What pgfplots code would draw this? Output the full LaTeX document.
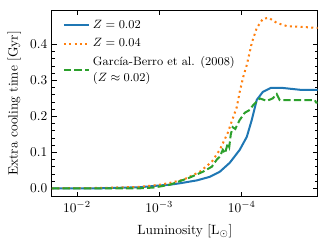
\documentclass[border=0pt]{standalone}
\usepackage{pgfplots}
\pgfplotsset{compat=1.18}
\definecolor{tabblue}{HTML}{1F77B4}
\definecolor{taborange}{HTML}{FF7F0E}
\definecolor{tabgreen}{HTML}{2CA02C}
\begin{document}
\begin{tikzpicture}
\useasboundingbox (-38.8pt,-35pt) rectangle (206.2pt,147pt);
\begin{axis}[
  at={(0,0)}, anchor=south west,
  scale only axis, width=198.5pt, height=139.5pt,
  xmode=log, x dir=reverse,
  xmin=1.2e-5, xmax=0.0201,
  ymin=-0.0236, ymax=0.4956,
  xtick={1e-2,1e-3,1e-4},
  xticklabels={$10^{-2}$,$10^{-3}$,$10^{-4}$},
  ytick={0,0.1,0.2,0.3,0.4},
  yticklabel style={/pgf/number format/.cd,fixed,fixed zerofill,precision=1},
  minor y tick num=4,
  tick align=inside, tick pos=both,
  major tick length=3.5pt, minor tick length=2pt,
  every tick/.style={black, line width=0.6pt},
  axis line style={line width=0.8pt},
  xlabel={Luminosity [L$_{\odot}$]},
  xlabel style={yshift=-2pt},
  ylabel={Extra cooling time [Gyr]},
  legend style={at={(axis description cs:0.025,0.975)}, anchor=north west, draw=none, fill=none, font=\small, row sep=2pt},
  legend cell align=left,
  legend image code/.code={\draw[#1] (0pt,0pt) -- (19pt,0pt);},
]
\addplot[tabblue, line width=1.5pt] coordinates {
(0.0201,0.0) (5.26e-3,0.0) (1.72e-3,0.003) (9.86e-4,0.008) (7.46e-4,0.010) (5.65e-4,0.014)
(3.51e-4,0.022) (2.44e-4,0.032) (1.85e-4,0.046) (1.40e-4,0.071) (1.06e-4,0.107)
(8.7e-5,0.143) (7.57e-5,0.19) (6.58e-5,0.246) (5.56e-5,0.268) (4.45e-5,0.279)
(3.18e-5,0.279) (1.98e-5,0.274) (1.2e-5,0.274)};
\addlegendentry{$Z = 0.02$}
\addplot[taborange, line width=1.5pt, dash pattern=on 1.5pt off 2.5pt] coordinates {
(0.0201,0.0) (5.26e-3,0.001) (1.72e-3,0.004) (9.86e-4,0.010) (7.46e-4,0.015) (5.1e-4,0.024)
(3.23e-4,0.046) (2.31e-4,0.074) (1.85e-4,0.107) (1.48e-4,0.154) (1.33e-4,0.185)
(1.15e-4,0.226) (1.06e-4,0.268) (9.6e-5,0.31) (8.7e-5,0.343) (7.57e-5,0.404)
(6.58e-5,0.446) (5.56e-5,0.471) (4.71e-5,0.474) (3.77e-5,0.460) (2.85e-5,0.451)
(1.98e-5,0.449) (1.2e-5,0.446)};
\addlegendentry{$Z = 0.04$}
\addplot[tabgreen, line width=1.5pt, dash pattern=on 5.5pt off 2.4pt] coordinates {
(0.0201,0.0) (5.26e-3,0.0) (1.72e-3,0.0) (1.2e-3,0.002) (9.86e-4,0.005) (7.46e-4,0.010)
(4.27e-4,0.030) (2.97e-4,0.046) (2.31e-4,0.060) (2.01e-4,0.080) (1.85e-4,0.088)
(1.70e-4,0.107) (1.6e-4,0.097) (1.48e-4,0.125) (1.42e-4,0.115) (1.36e-4,0.15)
(1.29e-4,0.17) (1.2e-4,0.165) (1.06e-4,0.19) (9.2e-5,0.21) (8.0e-5,0.218)
(7.36e-5,0.23) (6.05e-5,0.25) (4.98e-5,0.243) (4.21e-5,0.25) (3.77e-5,0.262)
(3.46e-5,0.245) (2.62e-5,0.245) (1.63e-5,0.245) (1.3e-5,0.245) (1.25e-5,0.238) (1.2e-5,0.238)};
\addlegendentry{\shortstack[l]{García-Berro et al. (2008)\\($Z \approx 0.02$)}}
\end{axis}
\end{tikzpicture}
\end{document}
